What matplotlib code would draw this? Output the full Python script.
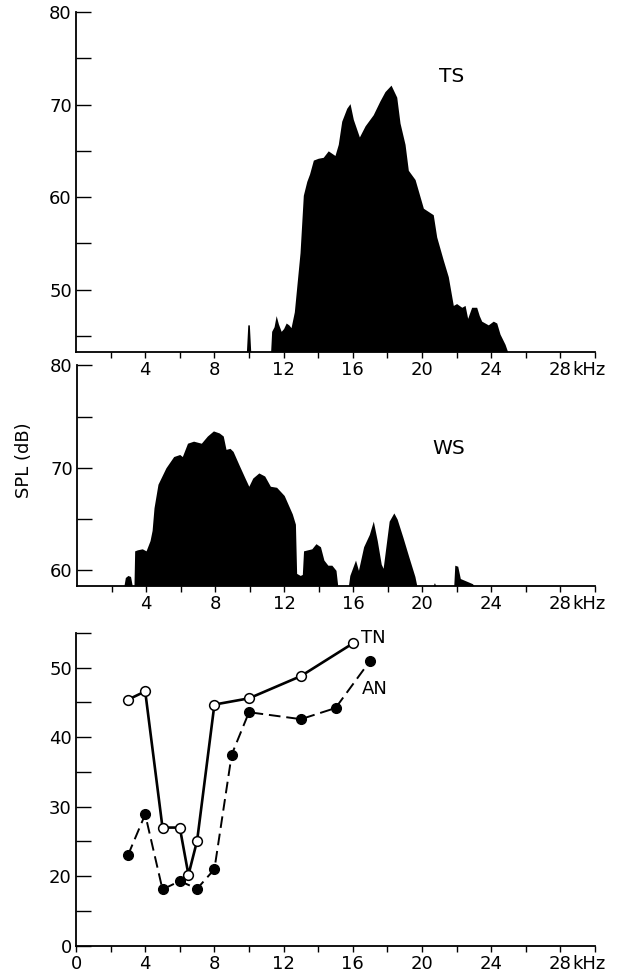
import matplotlib
matplotlib.use("Agg")
import matplotlib.pyplot as plt

plt.rcParams['font.family'] = ['DejaVu Sans']
plt.rcParams['font.size'] = 13

# ---------------- data ----------------
# TS spectrum (top panel): frequency (kHz) and SPL (dB); 43.3 = panel floor
ts_freq = [0, 9.85, 9.93, 10.02, 10.1, 11.25, 11.31, 11.45, 11.57, 11.7, 11.86, 12.0, 12.15,
           12.3, 12.43, 12.62, 12.8, 12.95, 13.14, 13.34, 13.5, 13.72, 14.0, 14.29, 14.58,
           14.97, 15.16, 15.36, 15.65, 15.84, 16.03, 16.38, 16.71, 17.18, 17.57, 17.86, 18.21,
           18.54, 18.73, 19.02, 19.21, 19.6, 20.08, 20.65, 20.85, 21.23, 21.52, 21.81, 22.0,
           22.3, 22.49, 22.64, 22.87, 23.16, 23.31, 23.45, 23.83, 24.12, 24.32, 24.51, 24.8,
           24.95, 30]
ts_level = [43.3, 43.3, 46.2, 46.2, 43.3, 43.3, 45.5, 46.0, 47.2, 46.3, 45.5, 45.8, 46.4,
            46.2, 45.9, 47.6, 51.1, 54.0, 60.2, 61.7, 62.5, 64.0, 64.2, 64.3, 65.0,
            64.5, 65.7, 68.2, 69.6, 70.1, 68.4, 66.5, 67.7, 68.9, 70.4, 71.4, 72.1,
            70.8, 68.0, 65.7, 62.9, 61.9, 58.8, 58.1, 55.7, 53.2, 51.4, 48.3, 48.5,
            48.1, 48.3, 46.9, 48.1, 48.1, 47.2, 46.6, 46.2, 46.6, 46.4, 45.2, 44.1,
            43.3, 43.3]

# WS spectrum (middle panel); 58.5 = panel floor
ws_freq = [0, 2.72, 2.8, 2.95, 3.1, 3.2, 3.3, 3.34, 3.5, 3.78, 4.0, 4.23, 4.35, 4.46, 4.69,
           5.15, 5.6, 5.95, 6.1, 6.4, 6.75, 7.2, 7.55, 7.9, 8.24, 8.47, 8.63, 8.86, 9.04,
           9.38, 9.73, 9.95, 10.18, 10.53, 10.87, 11.2, 11.56, 12.0, 12.47, 12.65, 12.72,
           12.93, 13.05, 13.12, 13.6, 13.84, 14.1, 14.3, 14.53, 14.76, 15.0, 15.1, 15.72,
           15.8, 16.13, 16.3, 16.6, 16.93, 17.16, 17.39, 17.62, 17.73, 18.08, 18.35, 18.54,
           18.88, 19.22, 19.57, 19.68, 20.62, 20.7, 20.78, 21.82, 21.88, 22.05, 22.2, 22.9,
           23.0, 30]
ws_level = [58.5, 58.5, 59.3, 59.5, 59.4, 58.5, 58.5, 61.9, 62.0, 62.1, 61.9, 62.9, 63.9, 66.1,
            68.4, 70.0, 71.1, 71.3, 71.1, 72.4, 72.6, 72.4, 73.1, 73.6, 73.4, 73.1, 71.8,
            71.9, 71.6, 70.3, 69.0, 68.2, 69.0, 69.5, 69.2, 68.2, 68.1, 67.3, 65.5, 64.5,
            59.7, 59.5, 59.6, 61.9, 62.1, 62.6, 62.3, 61.0, 60.5, 60.5, 60.0, 58.5, 58.5,
            59.5, 61.0, 60.0, 62.3, 63.5, 64.8, 62.9, 60.6, 60.2, 64.8, 65.6, 65.0, 63.2,
            61.3, 59.4, 58.5, 58.5, 58.8, 58.5, 58.5, 60.5, 60.4, 59.2, 58.7, 58.5, 58.5]

# Threshold curves (bottom panel)
tn_freq = [3, 4, 5, 6, 6.5, 7, 8, 10, 13, 16]
tn_level = [45.4, 46.6, 27.0, 27.0, 20.2, 25.1, 44.7, 45.6, 48.8, 53.5]
an_freq = [3, 4, 5, 6, 7, 8, 9, 10, 13, 15, 17]
an_level = [23.0, 28.9, 18.1, 19.3, 18.2, 21.0, 37.5, 43.6, 42.6, 44.2, 51.0]

x_major = [4, 8, 12, 16, 20, 24, 28]
x_minor = [2, 6, 10, 14, 18, 22, 26, 30]

# ---------------- figure ----------------
W, H = 621, 977
fig = plt.figure(figsize=(W / 100, H / 100), dpi=100)


def px_axes(left, top, right, bottom):
    return fig.add_axes([left / W, 1 - bottom / H, (right - left) / W, (bottom - top) / H])


ax1 = px_axes(76, 12, 595, 351.7)
ax2 = px_axes(77, 365.3, 595, 585.7)
ax3 = px_axes(76, 633, 595, 945.7)

LW = 1.3
for ax in (ax1, ax2, ax3):
    ax.patch.set_visible(False)
    ax.set_xlim(0, 30)
    for s in ('top', 'right'):
        ax.spines[s].set_visible(False)
    for s in ('left', 'bottom'):
        ax.spines[s].set_linewidth(LW)
    ax.tick_params(axis='x', which='both', direction='out', length=4.5, width=1.0,
                   pad=2.5, labelsize=13)
    ax.tick_params(axis='y', which='both', direction='in', length=11, width=1.0,
                   pad=3, labelsize=13)
    ax.set_xticks(x_major)
    ax.set_xticks(x_minor, minor=True)
    ax.set_xticklabels([str(v) for v in x_major])
    ax.annotate('kHz', xy=(28, 0), xycoords=('data', 'axes fraction'),
                xytext=(8.5, -7.0), textcoords='offset points', ha='left', va='top',
                fontsize=13)

# top panel
ax1.set_ylim(43.3, 80)
ax1.fill_between(ts_freq, 43.3, ts_level, color='black', linewidth=0)
ax1.set_yticks([50, 60, 70, 80])
ax1.set_yticks([45, 55, 65, 75], minor=True)
ax1.text(21.7, 73.0, 'TS', ha='center', va='center', fontsize=14.5)

# middle panel
ax2.set_ylim(58.5, 80)
ax2.fill_between(ws_freq, 58.5, ws_level, color='black', linewidth=0)
ax2.set_yticks([60, 70, 80])
ax2.set_yticks([65, 75], minor=True)
ax2.text(21.5, 71.9, 'WS', ha='center', va='center', fontsize=14.5)

# bottom panel (axis broken below 20: bottom labelled 0)
ax3.set_ylim(10, 55)
ax3.set_yticks([10, 20, 30, 40, 50])
ax3.set_yticklabels(['0', '20', '30', '40', '50'])
ax3.set_yticks([15, 25, 35, 45, 55], minor=True)
ax3.set_xticks([0] + x_major)
ax3.set_xticklabels(['0'] + [str(v) for v in x_major])
ax3.plot(an_freq, an_level, color='black', lw=1.4, ls=(0, (6, 3)),
         marker='o', ms=7, mfc='black', mec='black', clip_on=False)
ax3.plot(tn_freq, tn_level, color='black', lw=1.9, ls='-',
         marker='o', ms=7, mfc='white', mec='black', mew=1.1, clip_on=False)
ax3.text(16.5, 54.3, 'TN', ha='left', va='center', fontsize=13)
ax3.text(16.5, 46.9, 'AN', ha='left', va='center', fontsize=13)

fig.text(24 / W, 1 - 460 / H, 'SPL (dB)', rotation=90, ha='center', va='center',
         fontsize=13)

fig.savefig('out.png', dpi=100, facecolor='white')
